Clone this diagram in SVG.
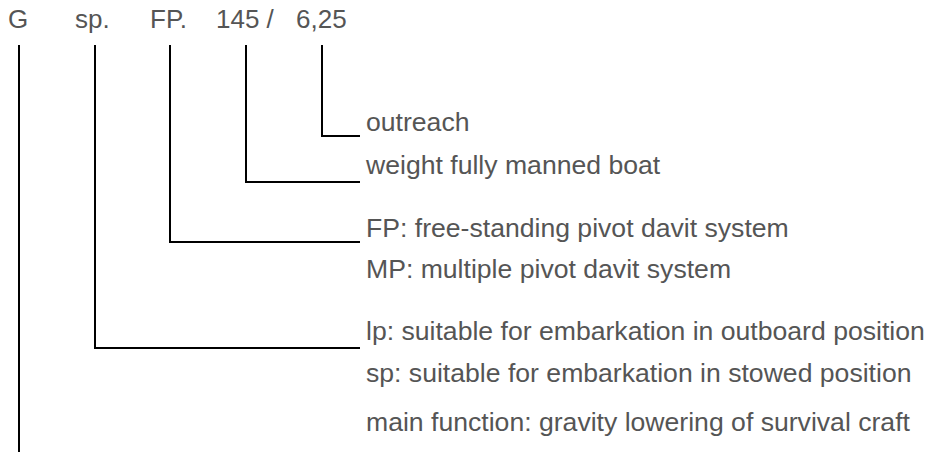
<svg xmlns="http://www.w3.org/2000/svg" width="930" height="452" viewBox="0 0 930 452">
<style>
text{font-family:"Liberation Sans",Arial,sans-serif;font-size:26.6px;fill:#555}
.top{font-size:26px}
.c{fill:none;stroke:#000;stroke-width:2}
</style>
<rect width="930" height="452" fill="#fff"/>
<g id="code">
<text class="top" x="8" y="28">G</text>
<text class="top" x="75" y="28">sp.</text>
<text class="top" x="150" y="28">FP.</text>
<text class="top" x="216" y="28">145 /</text>
<text class="top" x="296" y="28">6,25</text>
</g>
<g id="connectors">
<polyline class="c" points="322,45 322,136 360,136"/>
<polyline class="c" points="246,45 246,182 360,182"/>
<polyline class="c" points="170,45 170,242 360,242"/>
<polyline class="c" points="95,45 95,348 360,348"/>
<polyline class="c" points="19,45 19,452"/>
</g>
<g id="outreach"><text x="366" y="131">outreach</text></g>
<g id="weight"><text x="366" y="174">weight fully manned boat</text></g>
<g id="fp"><text x="366" y="237">FP: free-standing pivot davit system</text></g>
<g id="mp"><text x="366" y="278">MP: multiple pivot davit system</text></g>
<g id="lp"><text x="366" y="340">lp: suitable for embarkation in outboard position</text></g>
<g id="sp"><text x="366" y="382">sp: suitable for embarkation in stowed position</text></g>
<g id="main"><text x="366" y="431">main function: gravity lowering of survival craft</text></g>
</svg>
